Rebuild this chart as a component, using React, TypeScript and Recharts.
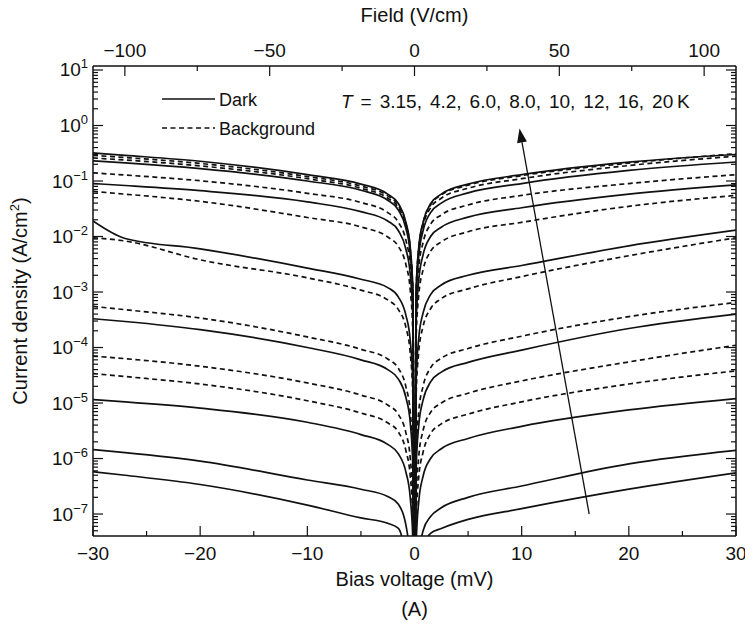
import React from 'react';
import { LineChart, Line, XAxis, YAxis, ReferenceLine } from 'recharts';

// Bias voltage sample points (mV)
const VOLTAGE = [-30, -27, -20, -10, -5, -2.5, -1.5, -0.8, -0.4, -0.15, 0, 0.15, 0.4, 0.8, 1.5, 2.5, 5, 10, 20, 30];

// Dark current density (A/cm^2), solid curves
const DARK_20K = [0.32, 0.29, 0.227, 0.13, 0.088, 0.058, 0.039, 0.018, 0.0065, 0.001, 1e-10, 0.001, 0.0065, 0.018, 0.039, 0.058, 0.088, 0.13, 0.218, 0.3];
const DARK_16K = [0.23, 0.212, 0.167, 0.1, 0.068, 0.045, 0.03, 0.014, 0.005, 0.0008, 1e-10, 0.0007, 0.0045, 0.0127, 0.027, 0.04, 0.061, 0.09, 0.155, 0.22];
const DARK_12K = [0.09, 0.083, 0.067, 0.042, 0.028, 0.019, 0.0127, 0.0059, 0.0021, 0.00033, 1e-10, 0.00026, 0.00166, 0.0047, 0.01, 0.0147, 0.0223, 0.033, 0.058, 0.085];
const DARK_10K = [0.019, 0.0092, 0.006, 0.0027, 0.0017, 0.0012, 0.00081, 0.00038, 0.000135, 2.1e-5, 1e-10, 2.4e-5, 0.00015, 0.00042, 0.0009, 0.00134, 0.002, 0.003, 0.0068, 0.013];
const DARK_8K = [3.3e-4, 2.94e-4, 2.1e-4, 1.0e-4, 6.0e-5, 4.0e-5, 2.7e-5, 1.26e-5, 4.5e-6, 7e-7, 1e-10, 6.3e-7, 4e-6, 1.13e-5, 2.4e-5, 3.6e-5, 5.4e-5, 9e-5, 2.2e-4, 4e-4];
const DARK_6K = [1.15e-5, 1.05e-5, 8.1e-6, 4.5e-6, 2.7e-6, 1.8e-6, 1.21e-6, 5.7e-7, 2.0e-7, 3.2e-8, 1e-10, 2.7e-8, 1.7e-7, 4.8e-7, 1e-6, 1.5e-6, 2.3e-6, 3.8e-6, 7.5e-6, 1.2e-5];
const DARK_4K2 = [1.45e-6, 1.28e-6, 9.0e-7, 4.1e-7, 2.8e-7, 2.06e-7, 1.5e-7, 6.3e-8, 1.5e-8, 2e-9, 1e-10, 2e-9, 1.5e-8, 5e-8, 9e-8, 1.3e-7, 2e-7, 3.2e-7, 8e-7, 1.4e-6];
const DARK_3K15 = [5.8e-7, 5.0e-7, 3.4e-7, 1.45e-7, 8.5e-8, 6.8e-8, 5.5e-8, 1.5e-8, 3e-9, 5e-10, 1e-10, 5e-10, 3e-9, 2.5e-8, 4.5e-8, 5.5e-8, 8e-8, 1.25e-7, 2.8e-7, 5.5e-7];

// Background current density (A/cm^2), dashed curves
const BG_20K = [0.29, 0.265, 0.207, 0.12, 0.081, 0.054, 0.036, 0.017, 0.006, 0.00095, 1e-10, 0.001, 0.0062, 0.0175, 0.037, 0.056, 0.084, 0.125, 0.21, 0.31];
const BG_16K = [0.26, 0.239, 0.187, 0.11, 0.074, 0.049, 0.033, 0.0155, 0.0055, 0.00087, 1e-10, 0.00087, 0.0055, 0.0155, 0.033, 0.049, 0.074, 0.11, 0.19, 0.28];
const BG_12K = [0.14, 0.128, 0.101, 0.06, 0.041, 0.027, 0.018, 0.0085, 0.003, 0.00048, 1e-10, 0.00044, 0.0028, 0.0078, 0.0166, 0.0245, 0.037, 0.055, 0.09, 0.13];
const BG_10K = [0.065, 0.058, 0.043, 0.022, 0.0149, 0.0098, 0.0066, 0.0031, 0.0011, 0.00017, 1e-10, 0.00014, 0.0009, 0.0025, 0.0054, 0.008, 0.0122, 0.018, 0.035, 0.055];
const BG_8K = [0.0095, 0.0083, 0.0038, 0.0018, 0.00108, 0.00072, 0.00048, 0.00023, 8e-5, 1.3e-5, 1e-10, 1.3e-5, 8.5e-5, 0.00024, 0.0005, 0.00076, 0.00114, 0.0019, 0.0045, 0.0095];
const BG_6K = [5.5e-4, 4.8e-4, 3.4e-4, 1.55e-4, 9.3e-5, 6.2e-5, 4.2e-5, 1.95e-5, 6.9e-6, 1.1e-6, 1e-10, 1.1e-6, 7.1e-6, 2e-5, 4.3e-5, 6.4e-5, 9.6e-5, 1.6e-4, 3.6e-4, 6.5e-4];
const BG_4K2 = [7e-5, 6.3e-5, 4.6e-5, 2.3e-5, 1.39e-5, 9.2e-6, 6.2e-6, 2.9e-6, 1.03e-6, 1.6e-7, 1e-10, 1.8e-7, 1.1e-6, 3.2e-6, 6.8e-6, 1e-5, 1.5e-5, 2.5e-5, 5.5e-5, 1.1e-4];
const BG_3K15 = [3.4e-5, 3.0e-5, 2.2e-5, 1.1e-5, 6.6e-6, 4.4e-6, 3.0e-6, 1.38e-6, 4.9e-7, 7.8e-8, 1e-10, 7.5e-8, 4.7e-7, 1.3e-6, 2.8e-6, 4.2e-6, 6.3e-6, 1.05e-5, 2.2e-5, 3.8e-5];

// Axis ticks
const VOLTAGE_TICKS = [-30, -25, -20, -15, -10, -5, 0, 5, 10, 15, 20, 25, 30];
const VOLTAGE_LABELED = [-30, -20, -10, 0, 10, 20, 30];
const FIELD_TICKS = [-100, -75, -50, -25, 0, 25, 50, 75, 100];
const FIELD_LABELED = [-100, -50, 0, 50, 100];
const DECADE_EXPONENTS = [-8, -7, -6, -5, -4, -3, -2, -1, 0, 1];
const MINOR_MULTIPLIERS = [1, 2, 3, 4, 5, 6, 7, 8, 9];
const Y_DOMAIN: [number, number] = [4.02e-8, 11.8];
const V_DOMAIN: [number, number] = [-30, 30];
const FIELD_DOMAIN: [number, number] = [-111, 111];

// Arrow annotation (mV, A/cm^2): tail -> head
const ARROW = [{ x: 16.3, y: 1e-7 }, { x: 9.8, y: 0.88 }];
const TEMPERATURES = ['3.15', '4.2', '6.0', '8.0', '10', '12', '16', '20'];

const Y_TICKS: number[] = [];
DECADE_EXPONENTS.forEach((e) => {
  MINOR_MULTIPLIERS.forEach((m) => {
    const v = m * Math.pow(10, e);
    if (v >= Y_DOMAIN[0] && v <= Y_DOMAIN[1]) Y_TICKS.push(v);
  });
});

// invisible helper so the top (field) and right axes are registered with data
const FRAME_HELPER = [
  { f: FIELD_DOMAIN[0], j: 1 },
  { f: FIELD_DOMAIN[1], j: 1 },
];

const SERIES = [
  { name: 'dark20', values: DARK_20K, dashed: false },
  { name: 'bg20', values: BG_20K, dashed: true },
  { name: 'bg16', values: BG_16K, dashed: true },
  { name: 'dark16', values: DARK_16K, dashed: false },
  { name: 'bg12', values: BG_12K, dashed: true },
  { name: 'dark12', values: DARK_12K, dashed: false },
  { name: 'bg10', values: BG_10K, dashed: true },
  { name: 'dark10', values: DARK_10K, dashed: false },
  { name: 'bg8', values: BG_8K, dashed: true },
  { name: 'bg6', values: BG_6K, dashed: true },
  { name: 'dark8', values: DARK_8K, dashed: false },
  { name: 'bg4', values: BG_4K2, dashed: true },
  { name: 'bg3', values: BG_3K15, dashed: true },
  { name: 'dark6', values: DARK_6K, dashed: false },
  { name: 'dark4', values: DARK_4K2, dashed: false },
  { name: 'dark3', values: DARK_3K15, dashed: false },
];

const FONT = '"Liberation Sans", Arial, Helvetica, sans-serif';
const INK = '#111';
const fmt = (n: number) => (n < 0 ? '\u2212' + Math.abs(n) : String(n));
const isDecade = (v: number) => {
  const e = Math.log10(v);
  return Math.abs(e - Math.round(e)) < 1e-6;
};

const LeftTick = (props: any) => {
  const { x, y, payload } = props;
  const v = payload.value as number;
  const major = isDecade(v);
  const e = Math.round(Math.log10(v));
  return (
    <g>
      <line x1={x} y1={y} x2={x + (major ? 10 : 5)} y2={y} stroke={INK} strokeWidth={1.2} />
      {major && (
        <text x={x - 5} y={y + 6.5} textAnchor="end" fontSize={19} fill={INK} fontFamily={FONT}>
          10<tspan dy={-8} fontSize={13}>{fmt(e)}</tspan>
        </text>
      )}
    </g>
  );
};

const RightTick = (props: any) => {
  const { x, y, payload } = props;
  const major = isDecade(payload.value as number);
  return <line x1={x} y1={y} x2={x - (major ? 10 : 5)} y2={y} stroke={INK} strokeWidth={1.2} />;
};

const BottomTick = (props: any) => {
  const { x, y, payload } = props;
  const v = payload.value as number;
  const major = VOLTAGE_LABELED.includes(v);
  return (
    <g>
      <line x1={x} y1={y} x2={x} y2={y - (major ? 10 : 5)} stroke={INK} strokeWidth={1.2} />
      {major && (
        <text x={x} y={y + 23.5} textAnchor="middle" fontSize={19} fill={INK} fontFamily={FONT}>
          {fmt(v)}
        </text>
      )}
    </g>
  );
};

const TopTick = (props: any) => {
  const { x, y, payload } = props;
  const v = payload.value as number;
  const major = FIELD_LABELED.includes(v);
  return (
    <g>
      <line x1={x} y1={y} x2={x} y2={y + (major ? 10 : 5)} stroke={INK} strokeWidth={1.2} />
      {major && (
        <text x={x} y={y - 9.5} textAnchor="middle" fontSize={19} fill={INK} fontFamily={FONT}>
          {fmt(v)}
        </text>
      )}
    </g>
  );
};

const ArrowShape = (props: any) => {
  const { x1, y1, x2, y2 } = props;
  if ([x1, y1, x2, y2].some((n) => typeof n !== 'number' || isNaN(n))) return <g />;
  const dx = x2 - x1;
  const dy = y2 - y1;
  const len = Math.sqrt(dx * dx + dy * dy);
  const ux = dx / len;
  const uy = dy / len;
  const hl = 14;
  const hw = 5;
  const bx = x2 - ux * hl;
  const by = y2 - uy * hl;
  const pts = `${x2},${y2} ${bx - uy * hw},${by + ux * hw} ${bx + uy * hw},${by - ux * hw}`;
  return (
    <g>
      <line x1={x1} y1={y1} x2={bx} y2={by} stroke={INK} strokeWidth={1.3} />
      <polygon points={pts} fill={INK} />
    </g>
  );
};

const W = 745;
const H = 619;

export default function App() {
  const tempText = TEMPERATURES.join(', ');
  return (
    <div style={{ position: 'relative', width: W, height: H, fontFamily: FONT }}>
      <LineChart width={W} height={H} margin={{ top: 0, right: 0, bottom: 0, left: 0 }}>
        <XAxis
          xAxisId="v"
          dataKey="v"
          type="number"
          domain={V_DOMAIN}
          allowDataOverflow
          ticks={VOLTAGE_TICKS}
          interval={0}
          height={91}
          tickSize={0}
          tickMargin={0}
          tickLine={false}
          tick={<BottomTick />}
          axisLine={{ stroke: INK, strokeWidth: 1.5 }}
        />
        <XAxis
          xAxisId="f"
          dataKey="f"
          orientation="top"
          type="number"
          domain={FIELD_DOMAIN}
          allowDataOverflow
          ticks={FIELD_TICKS}
          interval={0}
          height={58}
          tickSize={0}
          tickMargin={0}
          tickLine={false}
          tick={<TopTick />}
          axisLine={{ stroke: INK, strokeWidth: 1.5 }}
        />
        <YAxis
          yAxisId="j"
          scale="log"
          type="number"
          domain={Y_DOMAIN}
          allowDataOverflow
          ticks={Y_TICKS}
          interval={0}
          width={85}
          tickSize={0}
          tickMargin={0}
          tickLine={false}
          tick={<LeftTick />}
          axisLine={{ stroke: INK, strokeWidth: 1.5 }}
        />
        <YAxis
          yAxisId="jr"
          orientation="right"
          scale="log"
          type="number"
          domain={Y_DOMAIN}
          allowDataOverflow
          ticks={Y_TICKS}
          interval={0}
          width={17}
          tickSize={0}
          tickMargin={0}
          tickLine={false}
          tick={<RightTick />}
          axisLine={{ stroke: INK, strokeWidth: 1.5 }}
        />
        <Line
          xAxisId="f"
          yAxisId="jr"
          data={FRAME_HELPER}
          dataKey="j"
          stroke="none"
          strokeOpacity={0}
          dot={false}
          activeDot={false}
          isAnimationActive={false}
        />
        {SERIES.map((s) => (
          <Line
            key={s.name}
            xAxisId="v"
            yAxisId="j"
            data={VOLTAGE.map((v, i) => ({ v, j: s.values[i] }))}
            dataKey="j"
            type="monotone"
            stroke={INK}
            strokeWidth={1.7}
            strokeDasharray={s.dashed ? '5 3.5' : undefined}
            dot={false}
            activeDot={false}
            isAnimationActive={false}
          />
        ))}
        <ReferenceLine
          xAxisId="v"
          yAxisId="j"
          segment={ARROW}
          ifOverflow="extendDomain"
          shape={<ArrowShape />}
        />
      </LineChart>
      <svg
        width={W}
        height={H}
        style={{ position: 'absolute', left: 0, top: 0, pointerEvents: 'none', overflow: 'visible' }}
      >
        <g fontFamily={FONT} fill={INK}>
          <text x={406.5} y={14} textAnchor="middle" fontSize={20}>Field (V/cm)</text>
          <text x={406.5} y={578} textAnchor="middle" fontSize={20}>Bias voltage (mV)</text>
          <text x={406.5} y={608} textAnchor="middle" fontSize={20}>(A)</text>
          <text transform="translate(12, 293) rotate(-90)" x={0} y={7} textAnchor="middle" fontSize={20}>
            Current density (A/cm<tspan dy={-8} fontSize={13}>2</tspan><tspan dy={8}>)</tspan>
          </text>
          <line x1={154} y1={91} x2={207} y2={91} stroke={INK} strokeWidth={1.4} />
          <text x={211} y={97.5} fontSize={18}>Dark</text>
          <line x1={154} y1={120} x2={207} y2={120} stroke={INK} strokeWidth={1.4} strokeDasharray="5 3.5" />
          <text x={211} y={126.5} fontSize={18}>Background</text>
          <text x={333} y={100} fontSize={19} style={{ wordSpacing: '2.7px' }}>
            <tspan fontStyle="italic">T</tspan> = {tempText}{'\u2009'}K
          </text>
        </g>
      </svg>
    </div>
  );
}
